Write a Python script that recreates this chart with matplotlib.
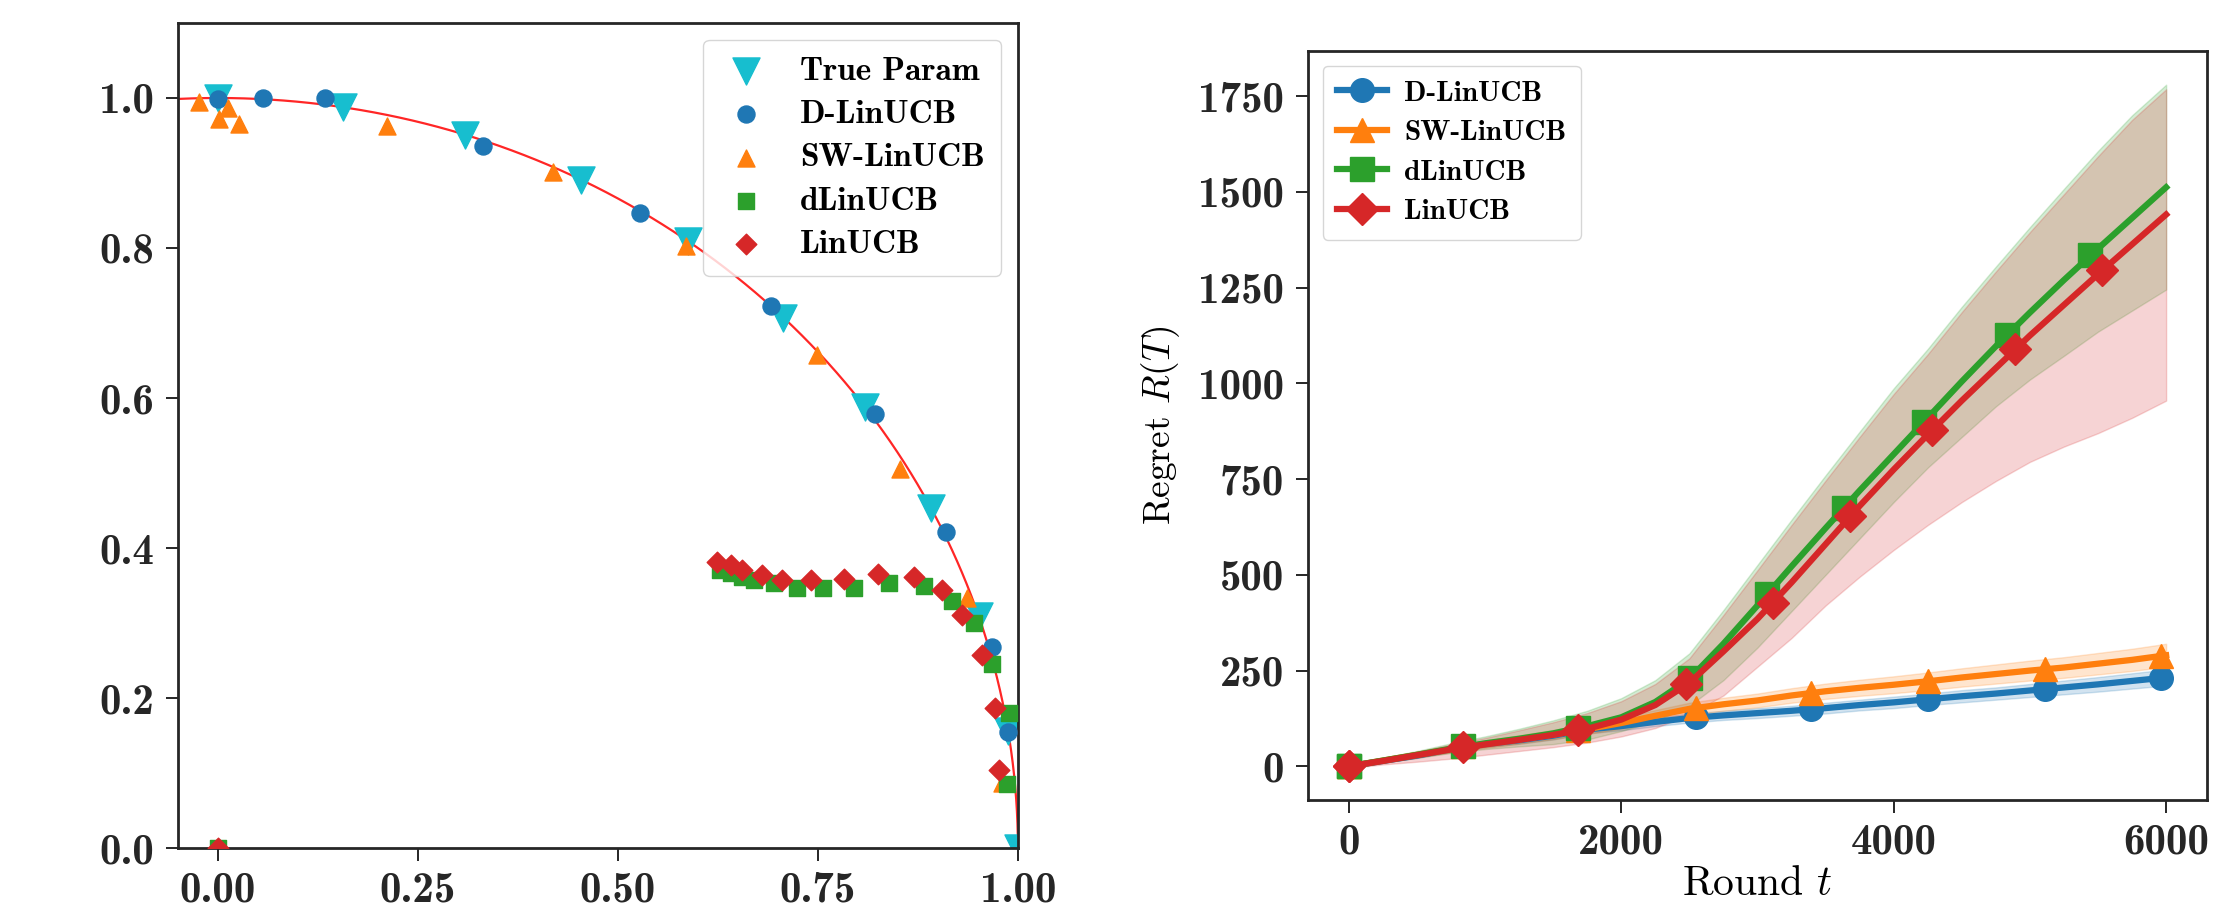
import numpy as np
import matplotlib
matplotlib.use("Agg")
import matplotlib.pyplot as plt
from matplotlib.font_manager import FontProperties

plt.rcParams['mathtext.fontset'] = 'cm'

# ---------------- left panel: estimated parameters ----------------
true_x = [0.0, 0.156, 0.309, 0.454, 0.588, 0.707, 0.809, 0.891, 0.951, 0.988, 1.0]
true_y = [1.0, 0.988, 0.951, 0.891, 0.809, 0.707, 0.588, 0.454, 0.309, 0.156, 0.0]

dlin_x = [0.0, 0.056, 0.134, 0.332, 0.528, 0.691, 0.821, 0.910, 0.968, 0.988]
dlin_y = [0.998, 1.0, 1.0, 0.936, 0.847, 0.723, 0.579, 0.421, 0.268, 0.155]

sw_x = [-0.024, 0.001, 0.012, 0.026, 0.212, 0.419, 0.585, 0.749, 0.853, 0.937, 0.980]
sw_y = [0.994, 0.972, 0.987, 0.965, 0.963, 0.901, 0.803, 0.658, 0.505, 0.333, 0.087]

dl_x = [0.0, 0.628, 0.641, 0.655, 0.670, 0.695, 0.724, 0.756, 0.795, 0.839, 0.883,
        0.918, 0.945, 0.968, 0.989, 0.987]
dl_y = [0.0, 0.371, 0.367, 0.362, 0.358, 0.353, 0.347, 0.347, 0.347, 0.353, 0.350,
        0.329, 0.300, 0.246, 0.180, 0.086]

lin_x = [0.0, 0.624, 0.641, 0.655, 0.680, 0.705, 0.741, 0.783, 0.825, 0.870, 0.905,
         0.930, 0.955, 0.971, 0.976]
lin_y = [0.0, 0.382, 0.378, 0.371, 0.364, 0.358, 0.358, 0.359, 0.366, 0.362, 0.344,
         0.311, 0.257, 0.187, 0.104]

left_xticks = [0.0, 0.25, 0.5, 0.75, 1.0]
left_xlabels = ["0.00", "0.25", "0.50", "0.75", "1.00"]
left_yticks = [0.0, 0.2, 0.4, 0.6, 0.8, 1.0]
left_ylabels = ["0.0", "0.2", "0.4", "0.6", "0.8", "1.0"]

# ---------------- right panel: regret curves ----------------
rounds = [0, 250, 500, 750, 1000, 1250, 1500, 1750, 2000, 2250, 2500, 2750, 3000,
          3250, 3500, 3750, 4000, 4250, 4500, 4750, 5000, 5250, 5500, 5750, 6000]

reg_dlin = [0, 14, 28, 45, 58, 68, 80, 96, 105, 116, 126, 133, 139,
            145, 152, 160, 167, 175, 183, 190, 198, 206, 214, 223, 232]
half_dlin = [2, 4, 6, 7, 8, 9, 10, 10, 11, 11, 12, 12, 13,
             13, 14, 14, 15, 15, 16, 16, 17, 18, 19, 20, 21]

reg_sw = [0, 15, 30, 45, 58, 70, 83, 97, 113, 132, 150, 162, 172,
          185, 196, 205, 213, 222, 232, 241, 250, 258, 268, 278, 290]
half_sw = [2, 5, 7, 9, 10, 11, 12, 13, 14, 15, 16, 17, 18,
           19, 20, 21, 22, 23, 24, 25, 26, 27, 28, 29, 30]

reg_dl = [0, 15, 30, 46, 60, 72, 86, 105, 128, 168, 228, 320, 420,
          522, 622, 720, 815, 910, 1005, 1097, 1185, 1270, 1352, 1432, 1512]
lo_dl = [-3, 10, 22, 35, 45, 52, 58, 70, 92, 118, 158, 225, 310,
         405, 500, 595, 690, 780, 860, 940, 1010, 1072, 1135, 1190, 1245]
hi_dl = [5, 22, 40, 60, 78, 98, 120, 145, 178, 225, 295, 408, 526,
         644, 760, 874, 987, 1090, 1200, 1305, 1408, 1508, 1607, 1700, 1780]

reg_lin = [0, 14, 29, 44, 57, 69, 82, 98, 122, 160, 218, 300, 385,
           480, 580, 680, 775, 866, 955, 1040, 1125, 1205, 1285, 1363, 1441]
lo_lin = [-5, 5, 12, 20, 30, 40, 50, 62, 78, 100, 135, 185, 260,
          335, 420, 495, 565, 630, 690, 745, 795, 835, 870, 910, 955]
hi_lin = [4, 20, 38, 57, 74, 94, 115, 139, 170, 215, 282, 395, 512,
          630, 746, 860, 972, 1076, 1186, 1292, 1395, 1494, 1593, 1688, 1768]

# marker positions as they sit on each curve
mark_t_dlin = [0, 840, 1680, 2551, 3396, 4254, 5108, 5961]
mark_v_dlin = [0, 50, 93, 128, 149, 175, 201, 231]
mark_t_sw = [0, 840, 1680, 2551, 3396, 4254, 5108, 5961]
mark_v_sw = [0, 52, 94, 153, 192, 222, 253, 288]
mark_t_dl = [0, 840, 1680, 2506, 3069, 3632, 4220, 4833, 5444]
mark_v_dl = [0, 52, 100, 231, 449, 674, 900, 1126, 1334]
mark_t_lin = [0, 840, 1680, 2478, 3111, 3681, 4281, 4893, 5530]
mark_v_lin = [0, 50, 96, 214, 427, 653, 878, 1091, 1295]

right_xticks = [0, 2000, 4000, 6000]
right_yticks = [0, 250, 500, 750, 1000, 1250, 1500, 1750]

c_blue, c_orange, c_green, c_red, c_cyan = '#1f77b4', '#ff7f0e', '#2ca02c', '#d62728', '#17becf'

tick_font = FontProperties(family='cmb10', size=31)
edge = '0.15'

fig = plt.figure(figsize=(22.21, 9.09), dpi=100)

# ---------- left ----------
ax1 = fig.add_axes([0.0801, 0.0671, 0.3782, 0.9076])
theta = np.linspace(0, np.pi / 2 + 0.06, 300)
ax1.plot(np.cos(theta), np.sin(theta), color='red', lw=1.6, alpha=0.85, zorder=1)
ax1.scatter(true_x, true_y, marker='v', s=380, color=c_cyan, label='True Param', zorder=2)
ax1.scatter(dlin_x, dlin_y, marker='o', s=150, color=c_blue, label='D-LinUCB', zorder=3)
ax1.scatter(sw_x, sw_y, marker='^', s=150, color=c_orange, label='SW-LinUCB', zorder=3)
ax1.scatter(dl_x, dl_y, marker='s', s=120, color=c_green, label='dLinUCB', zorder=3)
ax1.scatter(lin_x, lin_y, marker='D', s=110, color=c_red, label='LinUCB', zorder=3)
ax1.set_xlim(-0.05, 1.0)
ax1.set_ylim(0.0, 1.1)
ax1.set_xticks(left_xticks, left_xlabels)
ax1.set_yticks(left_yticks, left_ylabels)
ax1.legend(loc='upper right', prop=FontProperties(family='cmb10', size=24),
           labelspacing=0.42, handletextpad=0.8, handlelength=1.6, borderpad=0.5,
           framealpha=0.8)

# ---------- right ----------
ax2 = fig.add_axes([0.5889, 0.1199, 0.4048, 0.824])
series = [
    ('D-LinUCB', reg_dlin, np.subtract(reg_dlin, half_dlin), np.add(reg_dlin, half_dlin),
     mark_t_dlin, mark_v_dlin, c_blue, 'o', 17),
    ('SW-LinUCB', reg_sw, np.subtract(reg_sw, half_sw), np.add(reg_sw, half_sw),
     mark_t_sw, mark_v_sw, c_orange, '^', 17),
    ('dLinUCB', reg_dl, lo_dl, hi_dl, mark_t_dl, mark_v_dl, c_green, 's', 17),
    ('LinUCB', reg_lin, lo_lin, hi_lin, mark_t_lin, mark_v_lin, c_red, 'D', 16),
]
for name, mean, lo, hi, mt, mv, col, mk, ms in series:
    ax2.fill_between(rounds, lo, hi, color=col, alpha=0.2, lw=1)
    ax2.plot(rounds, mean, color=col, lw=4.5, marker=mk, markersize=ms,
             markevery=[0], label=name)
    ax2.plot(mt, mv, ls='none', color=col, marker=mk, markersize=ms)
ax2.set_xlim(-300, 6300)
ax2.set_ylim(-88, 1868)
ax2.set_xticks(right_xticks, [str(v) for v in right_xticks])
ax2.set_yticks(right_yticks, [str(v) for v in right_yticks])
ax2.set_xlabel('Round $t$', family='cmr10', fontsize=30, labelpad=2)
ax2.set_ylabel('Regret $R(T)$', family='cmr10', fontsize=27, labelpad=12)
ax2.legend(loc='upper left', prop=FontProperties(family='cmb10', size=21),
           labelspacing=0.45, handlelength=1.7, handletextpad=0.6, borderpad=0.5,
           framealpha=0.8)

for ax in (ax1, ax2):
    for lab in ax.get_xticklabels() + ax.get_yticklabels():
        lab.set_fontproperties(tick_font)
    ax.tick_params(length=9, width=1.4, color=edge, labelcolor='0.15', pad=8)
    for sp in ax.spines.values():
        sp.set_color(edge)
        sp.set_linewidth(2.0)

fig.savefig('out.png', dpi=100)
